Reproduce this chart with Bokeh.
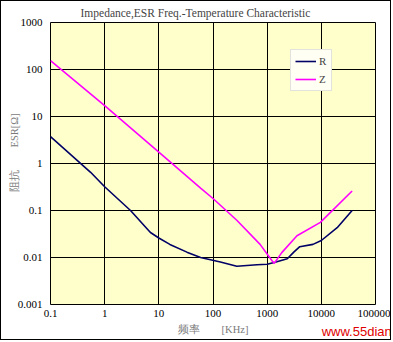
import math
from bokeh.plotting import figure
from bokeh.models import (FixedTicker, CustomJSTickFormatter, Legend, LegendItem,
                          LinearAxis)
from bokeh.embed import file_html
from bokeh.resources import INLINE

# ---- data ----
freq_r = [0.1, 0.55, 1, 3, 7, 10, 16, 33, 59, 137, 275, 650, 1000, 1400, 2350,
          3100, 4000, 7000, 10000, 19600, 37000]
esr_r = [3.75, 0.65, 0.32, 0.1, 0.034, 0.026, 0.019, 0.013, 0.010, 0.008, 0.0065,
         0.0070, 0.0072, 0.0079, 0.0094, 0.013, 0.017, 0.019, 0.023, 0.043, 0.1]
freq_z = [0.1, 1, 10, 59, 100, 275, 740, 1230, 1350, 1860, 3550, 9600, 37000]
imp_z = [155, 17, 1.74, 0.30, 0.18, 0.062, 0.019, 0.0085, 0.0075, 0.0127, 0.029,
         0.056, 0.26]
x_ticks = [0.1, 1, 10, 100, 1000, 10000, 100000]
y_ticks = [0.001, 0.01, 0.1, 1, 10, 100, 1000]

title_text = "Impedance,ESR Freq.-Temperature Characteristic"
y_label = "\u3000\u3000阻抗\u3000\u3000ESR[Ω]"
x_label = "频率\u3000\u3000[KHz]"
watermark = "www.55dianzi.com"

W, H = 391, 340
p = figure(width=W, height=H, x_axis_type="log", y_axis_type="log",
           x_range=(0.1, 100000), y_range=(0.001, 1000),
           output_backend="svg", toolbar_location=None,
           min_border_left=49, min_border_right=17, min_border_top=21, min_border_bottom=37,
           background_fill_color="#FFFFCC", border_fill_color="white",
           outline_line_color="black", outline_line_width=1,
           styles={"border": "1px solid black"})

p.title.text = title_text
p.title.text_font = "Liberation Serif"
p.title.text_font_size = "11.5px"
p.title.text_font_style = "normal"
p.title.align = "left"
p.title.offset = 30
p.title.standoff = 7

fmt = CustomJSTickFormatter(code="return String(Number(tick.toPrecision(6)));")
for ax, ticks in ((p.xaxis, x_ticks), (p.yaxis, y_ticks)):
    ax.ticker = FixedTicker(ticks=ticks)
    ax.formatter = fmt
    ax.major_tick_line_color = None
    ax.minor_tick_line_color = None
    ax.major_tick_out = 0
    ax.major_tick_in = 0
    ax.minor_tick_out = 0
    ax.minor_tick_in = 0
    ax.axis_line_color = None
    ax.major_label_text_font = "Liberation Serif"
    ax.major_label_text_font_size = "11px"
    ax.major_label_text_color = "black"
    ax.axis_label_text_font_style = "normal"
    ax.axis_label_text_font = "Liberation Serif"
    ax.axis_label_text_font_size = "10.5px"
    ax.axis_label_text_color = "#7A7A7A"
p.yaxis.major_label_standoff = 8
p.yaxis.axis_label_standoff = -5
p.xaxis.major_label_standoff = 5
p.xaxis.axis_label_standoff = 4
p.yaxis.axis_label = y_label
p.xaxis.axis_label = x_label

# watermark as the label of an extra, tick-less axis collapsed onto the x-label row
wm_axis = LinearAxis(ticker=FixedTicker(ticks=[]), axis_label=watermark,
                     axis_label_text_font="Liberation Sans", axis_label_text_font_size="13px",
                     axis_label_text_font_style="normal", axis_label_text_color="#E00000",
                     axis_label_standoff=-14, axis_label_align="end",
                     axis_line_color=None, major_tick_line_color=None,
                     minor_tick_line_color=None, major_tick_out=0, major_tick_in=0,
                     minor_tick_out=0, minor_tick_in=0, major_label_text_font_size="0px")
p.add_layout(wm_axis, "below")

for g in (p.xgrid, p.ygrid):
    g.grid_line_color = "black"
    g.grid_line_width = 1
    g.grid_line_alpha = 1

r_line = p.line(freq_r, esr_r, line_color="#000066", line_width=1.6)
z_line = p.line(freq_z, imp_z, line_color="#FF00FF", line_width=1.6)

legend = Legend(items=[LegendItem(label="R", renderers=[r_line]),
                       LegendItem(label="Z", renderers=[z_line])],
                location=(240, 213), orientation="vertical",
                label_text_font="Liberation Serif", label_text_font_size="11px",
                glyph_width=21, glyph_height=14, label_height=14, label_width=8,
                padding=4, spacing=4, label_standoff=3, margin=0,
                background_fill_color="#FFFFF4", background_fill_alpha=1,
                border_line_color="#C8C8C8", border_line_width=1)
p.add_layout(legend, "center")

open("out.html", "w").write(file_html(p, INLINE))
